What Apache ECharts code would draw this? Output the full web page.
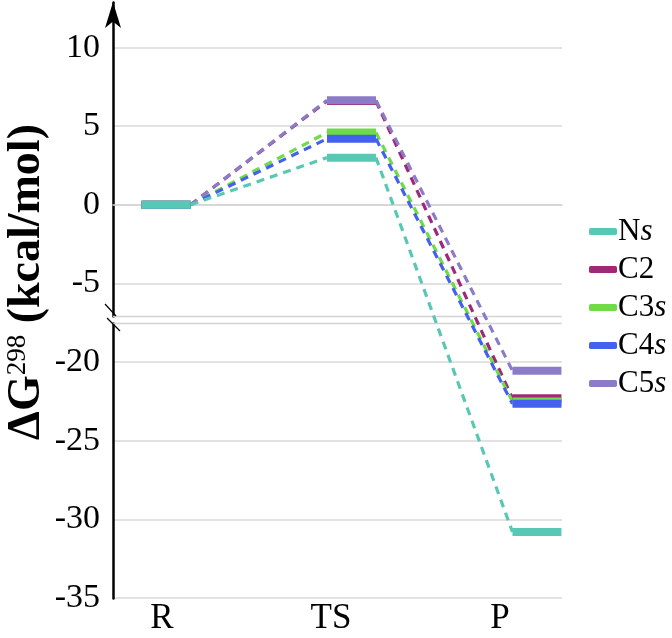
<!DOCTYPE html>
<html>
<head>
<meta charset="utf-8">
<script src="https://cdn.jsdelivr.net/npm/echarts@6/dist/echarts.min.js"></script>
<style>
html,body{margin:0;padding:0;background:#fff;}
#chart{width:672px;height:638px;}
</style>
</head>
<body>
<div id="chart"></div>
<script>
// ---- data ----
const stages = ['R', 'TS', 'P'];
const species = ['Ns', 'C2', 'C3s', 'C4s', 'C5s'];
const Ns  = [0, 3.0, -30.8];
const C2  = [0, 6.6, -22.3];
const C3s = [0, 4.6, -22.5];
const C4s = [0, 4.2, -22.65];
const C5s = [0, 6.65, -20.55];
const yTicks = [-35, -30, -25, -20, -5, 0, 5, 10];

// ---- styling ----
const values = { Ns: Ns, C2: C2, C3s: C3s, C4s: C4s, C5s: C5s };
const colors = { Ns: '#58c8b4', C2: '#a02878', C3s: '#6edc46', C4s: '#4460ee', C5s: '#8c7cc8' };
const zOrder = { Ns: 8, C2: 4, C3s: 5, C4s: 6, C5s: 7 };
const drawOrder = ['C2', 'C3s', 'C4s', 'C5s', 'Ns'];
const h = 0.132; // half width of a level bar in stage units
const serif = '"Liberation Serif", "DejaVu Serif", serif';

const series = [];
drawOrder.forEach(name => {
  const v = values[name];
  const lev = [];
  v.forEach((y, i) => { lev.push([i - h, y], [i + h, y], [i + h, '-']); });
  series.push({
    type: 'line', name: name, xAxisIndex: 0, yAxisIndex: 0,
    color: colors[name], symbol: 'none', z: zOrder[name] + 10,
    lineStyle: { width: 8, color: colors[name] },
    data: lev, silent: true, animation: false
  });
});
drawOrder.forEach(name => {
  const v = values[name];
  const con = [];
  for (let i = 0; i < v.length - 1; i++) {
    con.push([i + h, v[i]], [i + 1 - h, v[i + 1]], [i + 1, '-']);
  }
  series.push({
    type: 'line', name: name, xAxisIndex: 0, yAxisIndex: 0,
    color: colors[name], symbol: 'none', z: zOrder[name],
    lineStyle: { width: 3.2, type: [8, 6], color: colors[name] },
    data: con, silent: true, animation: false
  });
});

const chart = echarts.init(document.getElementById('chart'), null, { renderer: 'canvas' });
chart.setOption({
  animation: false,
  backgroundColor: '#fff',
  grid: { left: 113, right: 110, top: 2, bottom: 40, containLabel: false },
  xAxis: [
    {
      type: 'value', min: -0.2857, max: 2.135, position: 'bottom',
      axisLine: { show: true, lineStyle: { color: '#d4d4d4', width: 1.5 } },
      axisTick: { show: false }, axisLabel: { show: false }, splitLine: { show: false }
    },
    {
      type: 'value', min: -0.29, max: 2.367, position: 'bottom',
      axisLine: { show: false }, axisTick: { show: false }, splitLine: { show: false },
      axisLabel: {
        customValues: [0, 1, 2],
        formatter: v => stages[Math.round(v)] || '',
        fontFamily: serif, fontSize: 35, color: '#000', margin: 3
      }
    }
  ],
  yAxis: {
    type: 'value', min: -35, max: 12.9, interval: 5,
    breaks: [{ start: -17.55, end: -7.1, gap: '1.22%' }],
    breakArea: {
      show: true,
      zigzagAmplitude: 0,
      zigzagZ: 1,
      itemStyle: { color: 'rgba(0,0,0,0)', borderColor: '#d4d4d4', borderWidth: 1.5, borderType: 'solid', opacity: 1 }
    },
    breakLabelLayout: { moveOverlap: false },
    axisLine: {
      show: true, onZero: false,
      lineStyle: { color: '#000', width: 2.5 },
      symbol: ['none', 'arrow'], symbolSize: [12, 26]
    },
    axisTick: { show: false, customValues: yTicks },
    axisLabel: {
      customValues: yTicks,
      formatter: v => String(v),
      fontFamily: serif, fontSize: 34, color: '#000', margin: 13
    },
    splitLine: { show: true, lineStyle: { color: '#d9d9d9', width: 1.5 } }
  },
  legend: {
    data: species,
    orient: 'vertical', left: 584, top: 211,
    icon: 'roundRect', itemWidth: 28, itemHeight: 7, itemGap: 7,
    selectedMode: false,
    formatter: name => name.endsWith('s') ? '{n|' + name.slice(0, -1) + '}{i|s}' : '{n|' + name + '}',
    textStyle: {
      color: '#000', padding: [0, 0, 0, -4],
      rich: {
        n: { fontFamily: serif, fontSize: 31, color: '#000', lineHeight: 34 },
        i: { fontFamily: serif, fontSize: 31, fontStyle: 'italic', color: '#000', lineHeight: 34 }
      }
    }
  },
  graphic: [
    {
      type: 'text', x: 27, y: 282, rotation: Math.PI / 2, silent: true,
      style: {
        text: '{b|ΔG}{s|298}{b| (kcal/mol)}',
        align: 'center', verticalAlign: 'middle',
        rich: {
          b: { fontFamily: serif, fontSize: 46, fontWeight: 'bold', fill: '#000' },
          s: { fontFamily: serif, fontSize: 27, fill: '#000', padding: [0, 0, 18, 0] }
        }
      }
    },
    { type: 'line', silent: true, z: 100, shape: { x1: 105, y1: 304, x2: 116, y2: 316 }, style: { stroke: '#000', lineWidth: 1.2 } },
    { type: 'line', silent: true, z: 100, shape: { x1: 107, y1: 318, x2: 120, y2: 331 }, style: { stroke: '#000', lineWidth: 1.2 } }
  ],
  series: series
});
</script>
</body>
</html>
